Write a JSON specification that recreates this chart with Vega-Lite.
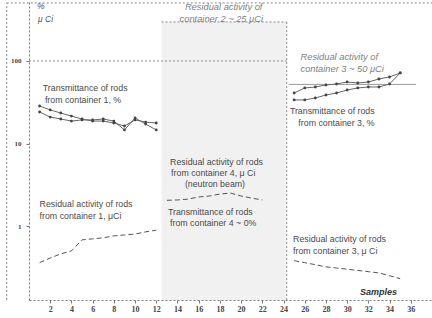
{
  "$schema": "https://vega.github.io/schema/vega-lite/v6.json",
  "width": 403,
  "height": 300,
  "padding": {"left": 29, "top": 0, "right": 0, "bottom": 18},
  "autosize": {"type": "none"},
  "background": "white",
  "config": {"view": {"stroke": null}},
  "datasets": {
    "region": [{"x": 12.5, "x2": 24.3, "y": 0.127, "y2": 297}],
    "hrules": [
      {"x": 0, "x2": 24.3, "y": 100, "k": "c1"},
      {"x": 12.5, "x2": 24.3, "y": 297, "k": "c2"},
      {"x": -2.1, "x2": 38, "y": 505, "k": "top"}
    ],
    "c3level": [{"x": 24.5, "x2": 36.5, "y": 52}],
    "vrules": [
      {"x": 24.3, "y": 0.127, "y2": 297},
      {"x": -2.1, "y": 0.127, "y2": 505}
    ],
    "trans": [
      {"x": 1, "y": 28.5, "s": "1a"}, {"x": 2, "y": 25.5, "s": "1a"}, {"x": 3, "y": 23.4, "s": "1a"}, {"x": 4, "y": 21.5, "s": "1a"},
      {"x": 5, "y": 19.8, "s": "1a"}, {"x": 6, "y": 18.7, "s": "1a"}, {"x": 7, "y": 18.7, "s": "1a"}, {"x": 8, "y": 17.7, "s": "1a"},
      {"x": 9, "y": 16.3, "s": "1a"}, {"x": 10, "y": 19.3, "s": "1a"}, {"x": 11, "y": 18.2, "s": "1a"}, {"x": 12, "y": 17.7, "s": "1a"},
      {"x": 1, "y": 24.1, "s": "1b"}, {"x": 2, "y": 20.9, "s": "1b"}, {"x": 3, "y": 19.8, "s": "1b"}, {"x": 4, "y": 18.7, "s": "1b"},
      {"x": 5, "y": 19.3, "s": "1b"}, {"x": 6, "y": 19.3, "s": "1b"}, {"x": 7, "y": 19.8, "s": "1b"}, {"x": 8, "y": 18.7, "s": "1b"},
      {"x": 9, "y": 14.6, "s": "1b"}, {"x": 10, "y": 20.4, "s": "1b"}, {"x": 11, "y": 17.2, "s": "1b"}, {"x": 12, "y": 14.6, "s": "1b"},
      {"x": 25, "y": 40.9, "s": "3a"}, {"x": 26, "y": 47.1, "s": "3a"}, {"x": 27, "y": 48.4, "s": "3a"}, {"x": 28, "y": 51.2, "s": "3a"},
      {"x": 29, "y": 52.6, "s": "3a"}, {"x": 30, "y": 55.6, "s": "3a"}, {"x": 31, "y": 54.1, "s": "3a"}, {"x": 32, "y": 55.6, "s": "3a"},
      {"x": 33, "y": 60.5, "s": "3a"}, {"x": 34, "y": 64.0, "s": "3a"}, {"x": 35, "y": 71.6, "s": "3a"},
      {"x": 25, "y": 33.7, "s": "3b"}, {"x": 26, "y": 33.7, "s": "3b"}, {"x": 27, "y": 35.6, "s": "3b"}, {"x": 28, "y": 38.7, "s": "3b"},
      {"x": 29, "y": 40.9, "s": "3b"}, {"x": 30, "y": 44.5, "s": "3b"}, {"x": 31, "y": 47.1, "s": "3b"}, {"x": 32, "y": 48.4, "s": "3b"},
      {"x": 33, "y": 48.4, "s": "3b"}, {"x": 34, "y": 52.6, "s": "3b"}, {"x": 35, "y": 71.6, "s": "3b"}
    ],
    "resid": [
      {"x": 1, "y": 0.36, "s": "c1"}, {"x": 2, "y": 0.41, "s": "c1"}, {"x": 3, "y": 0.46, "s": "c1"}, {"x": 4, "y": 0.50, "s": "c1"},
      {"x": 5, "y": 0.68, "s": "c1"}, {"x": 6, "y": 0.70, "s": "c1"}, {"x": 7, "y": 0.72, "s": "c1"}, {"x": 8, "y": 0.76, "s": "c1"},
      {"x": 9, "y": 0.78, "s": "c1"}, {"x": 10, "y": 0.80, "s": "c1"}, {"x": 11, "y": 0.85, "s": "c1"}, {"x": 12, "y": 0.89, "s": "c1"},
      {"x": 13, "y": 2.05, "s": "c4"}, {"x": 14, "y": 2.07, "s": "c4"}, {"x": 15, "y": 2.12, "s": "c4"}, {"x": 16, "y": 2.25, "s": "c4"},
      {"x": 17, "y": 2.31, "s": "c4"}, {"x": 18, "y": 2.44, "s": "c4"}, {"x": 19, "y": 2.51, "s": "c4"}, {"x": 20, "y": 2.31, "s": "c4"},
      {"x": 21, "y": 2.18, "s": "c4"}, {"x": 22, "y": 2.07, "s": "c4"},
      {"x": 25, "y": 0.38, "s": "c3"}, {"x": 26, "y": 0.36, "s": "c3"}, {"x": 27, "y": 0.34, "s": "c3"}, {"x": 28, "y": 0.32, "s": "c3"},
      {"x": 29, "y": 0.31, "s": "c3"}, {"x": 30, "y": 0.30, "s": "c3"}, {"x": 31, "y": 0.29, "s": "c3"}, {"x": 32, "y": 0.28, "s": "c3"},
      {"x": 33, "y": 0.27, "s": "c3"}, {"x": 34, "y": 0.25, "s": "c3"}, {"x": 35, "y": 0.23, "s": "c3"}
    ],
    "notes": [
      {"x": 1.3, "y": 47.1, "label": "Transmittance of rods"},
      {"x": 1.5, "y": 33.7, "label": "from container 1, %"},
      {"x": 1.0, "y": 1.85, "label": "Residual activity of rods"},
      {"x": 1.0, "y": 1.32, "label": "from container 1, μCi"},
      {"x": 13.3, "y": 5.97, "label": "Residual activity of rods"},
      {"x": 13.4, "y": 4.39, "label": "from container 4,  μ Ci"},
      {"x": 14.7, "y": 3.23, "label": "(neutron beam)"},
      {"x": 13.1, "y": 1.48, "label": "Transmittance  of rods"},
      {"x": 13.3, "y": 1.09, "label": "from container 4 ~ 0%"},
      {"x": 24.6, "y": 24.8, "label": "Transmittance of rods"},
      {"x": 25.4, "y": 17.7, "label": "from container 3, %"},
      {"x": 24.9, "y": 0.695, "label": "Residual activity of rods"},
      {"x": 24.9, "y": 0.498, "label": "from container 3,  μ Ci"}
    ],
    "italic": [
      {"x": 14.7, "y": 445, "label": "Residual activity of"},
      {"x": 14.2, "y": 325, "label": "container 2 ~ 25 μCi"},
      {"x": 25.6, "y": 112, "label": "Residual activity of"},
      {"x": 25.6, "y": 80, "label": "container 3 ~ 50 μCi"}
    ],
    "units": [
      {"x": 0.75, "y": 464, "label": "%"},
      {"x": 0.85, "y": 323, "label": "μ Ci"}
    ],
    "samples": [{"x": 31.2, "y": 0.158, "label": "Samples"}]
  },
  "encoding": {
    "x": {
      "field": "x", "type": "quantitative",
      "scale": {"domain": [0, 38], "nice": false, "zero": false},
      "axis": {
        "title": null, "values": [2, 4, 6, 8, 10, 12, 14, 16, 18, 20, 22, 24, 26, 28, 30, 32, 34, 36],
        "grid": false, "domainColor": "#777", "domainDash": [2, 2], "tickColor": "#777", "tickSize": 3,
        "labelFont": "Liberation Serif", "labelFontWeight": "bold", "labelFontSize": 8, "labelColor": "#444", "labelPadding": 2
      }
    },
    "y": {
      "field": "y", "type": "quantitative",
      "scale": {"type": "log", "domain": [0.127, 548], "nice": false},
      "axis": {
        "title": null, "values": [1, 10, 100], "format": "d", "grid": false,
        "domainColor": "#777", "domainDash": [2, 2], "tickColor": "#777", "tickSize": 3,
        "labelFont": "Liberation Serif", "labelFontWeight": "bold", "labelFontSize": 7, "labelColor": "#444", "labelPadding": 5
      }
    }
  },
  "layer": [
    {
      "data": {"name": "region"},
      "mark": {"type": "rect", "color": "#f1f1f1"},
      "encoding": {"x2": {"field": "x2"}, "y2": {"field": "y2"}}
    },
    {
      "data": {"name": "hrules"},
      "mark": {"type": "rule", "color": "#888", "strokeWidth": 1, "strokeDash": [2, 2], "clip": false},
      "encoding": {"x2": {"field": "x2"}}
    },
    {
      "data": {"name": "c3level"},
      "mark": {"type": "rule", "color": "#999", "strokeWidth": 1},
      "encoding": {"x2": {"field": "x2"}}
    },
    {
      "data": {"name": "vrules"},
      "mark": {"type": "rule", "color": "#888", "strokeWidth": 1, "strokeDash": [2, 2], "clip": false},
      "encoding": {"y2": {"field": "y2"}}
    },
    {
      "data": {"name": "trans"},
      "mark": {"type": "line", "color": "#666", "strokeWidth": 1, "point": {"filled": true, "size": 8, "color": "#444"}},
      "encoding": {"detail": {"field": "s"}}
    },
    {
      "data": {"name": "resid"},
      "mark": {"type": "line", "color": "#555", "strokeWidth": 1, "strokeDash": [5, 3]},
      "encoding": {"detail": {"field": "s"}}
    },
    {
      "data": {"name": "notes"},
      "mark": {"type": "text", "align": "left", "baseline": "middle", "font": "Liberation Sans", "fontSize": 8.8, "color": "#4a4a4a"},
      "encoding": {"text": {"field": "label"}}
    },
    {
      "data": {"name": "italic"},
      "mark": {"type": "text", "align": "left", "baseline": "middle", "font": "Liberation Sans", "fontSize": 9.3, "fontStyle": "italic", "color": "#808080", "clip": false},
      "encoding": {"text": {"field": "label"}}
    },
    {
      "data": {"name": "units"},
      "mark": {"type": "text", "align": "left", "baseline": "middle", "font": "Liberation Sans", "fontSize": 8.5, "fontStyle": "italic", "color": "#555", "clip": false},
      "encoding": {"text": {"field": "label"}}
    },
    {
      "data": {"name": "samples"},
      "mark": {"type": "text", "align": "left", "baseline": "middle", "font": "Liberation Sans", "fontSize": 9, "fontStyle": "italic", "fontWeight": "bold", "color": "#333"},
      "encoding": {"text": {"field": "label"}}
    }
  ]
}
